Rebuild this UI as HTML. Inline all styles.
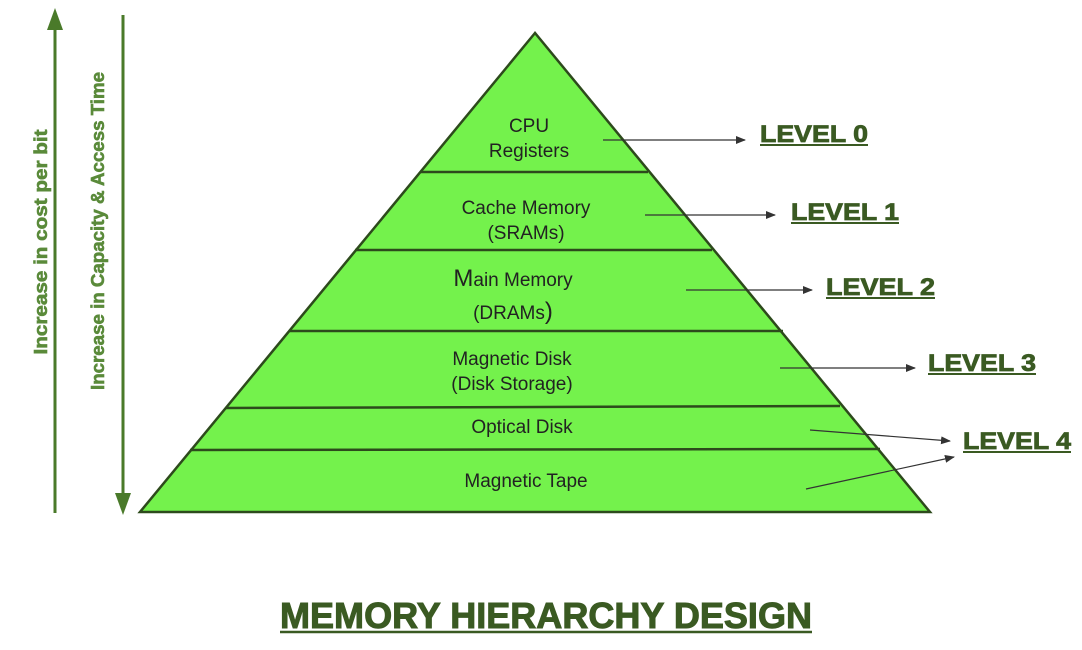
<!DOCTYPE html>
<html><head><meta charset="utf-8"><style>
body{margin:0;background:#fff;width:1082px;height:650px;overflow:hidden}
svg{display:block}
</style></head><body>
<svg width="1082" height="650" viewBox="0 0 1082 650" font-family="Liberation Sans, sans-serif">
<defs>
<marker id="a" markerWidth="10" markerHeight="8" refX="9" refY="4" orient="auto" markerUnits="userSpaceOnUse"><path d="M0,0 L10,4 L0,8 z" fill="#333"/></marker>
</defs>
<line x1="55" y1="513" x2="55" y2="28" stroke="#4a7a2a" stroke-width="3"/>
<path d="M47,30 L55,8 L63,30 z" fill="#4a7a2a"/>
<line x1="123" y1="15" x2="123" y2="495" stroke="#4a7a2a" stroke-width="3"/>
<path d="M115,493 L123,515 L131,493 z" fill="#4a7a2a"/>
<g font-size="18" font-weight="bold" fill="#5a8a3a" stroke="#5a8a3a" stroke-width="0.6">
<text transform="translate(47,242) rotate(-90)" text-anchor="middle" textLength="225" lengthAdjust="spacingAndGlyphs">Increase in cost per bit</text>
<text transform="translate(104,231) rotate(-90)" text-anchor="middle" textLength="318" lengthAdjust="spacingAndGlyphs">Increase in Capacity &amp; Access Time</text>
</g>
<polygon points="535,33 140,512 930,512" fill="#74f24c" stroke="#2d4a1c" stroke-width="2.5"/>
<g stroke="#2d4a1c" stroke-width="2.5">
<line x1="420" y1="172" x2="648" y2="172"/>
<line x1="355" y1="250" x2="712" y2="250"/>
<line x1="290" y1="331" x2="783" y2="331"/>
<line x1="226" y1="408" x2="840" y2="406"/>
<line x1="190" y1="450" x2="880" y2="449"/>
</g>
<g font-size="19" fill="#222" text-anchor="middle">
<text x="529" y="132">CPU</text>
<text x="529" y="157">Registers</text>
<text x="526" y="214">Cache Memory</text>
<text x="526" y="239">(SRAMs)</text>
<text x="513" y="286"><tspan font-size="24">M</tspan>ain Memory</text>
<text x="513" y="319">(DRAMs<tspan font-size="24">)</tspan></text>
<text x="512" y="365">Magnetic Disk</text>
<text x="512" y="390">(Disk Storage)</text>
<text x="522" y="433">Optical Disk</text>
<text x="526" y="487">Magnetic Tape</text>
</g>
<g stroke="#333" stroke-width="1.2" marker-end="url(#a)">
<line x1="603" y1="140" x2="745" y2="140"/>
<line x1="645" y1="215" x2="775" y2="215"/>
<line x1="686" y1="290" x2="812" y2="290"/>
<line x1="780" y1="368" x2="915" y2="368"/>
<line x1="810" y1="430" x2="950" y2="441"/>
<line x1="806" y1="489" x2="954" y2="457"/>
</g>
<g font-size="24" font-weight="bold" fill="#3a5a22" stroke="#3a5a22" stroke-width="0.8">
<text x="760" y="142" textLength="108" lengthAdjust="spacingAndGlyphs">LEVEL 0</text>
<text x="791" y="220" textLength="108" lengthAdjust="spacingAndGlyphs">LEVEL 1</text>
<text x="826" y="295" textLength="109" lengthAdjust="spacingAndGlyphs">LEVEL 2</text>
<text x="928" y="371" textLength="108" lengthAdjust="spacingAndGlyphs">LEVEL 3</text>
<text x="963" y="449" textLength="108" lengthAdjust="spacingAndGlyphs">LEVEL 4</text>
</g>
<g stroke="#3a5a22" stroke-width="2">
<line x1="760" y1="145" x2="868" y2="145"/>
<line x1="791" y1="223" x2="899" y2="223"/>
<line x1="826" y1="298" x2="935" y2="298"/>
<line x1="928" y1="374" x2="1036" y2="374"/>
<line x1="963" y1="452" x2="1071" y2="452"/>
</g>
<text x="280" y="628" font-size="36" font-weight="bold" fill="#3a5a22" stroke="#3a5a22" stroke-width="1" textLength="532" lengthAdjust="spacingAndGlyphs">MEMORY HIERARCHY DESIGN</text>
<line x1="280" y1="632" x2="812" y2="632" stroke="#3a5a22" stroke-width="2.5"/>
</svg>
</body></html>
